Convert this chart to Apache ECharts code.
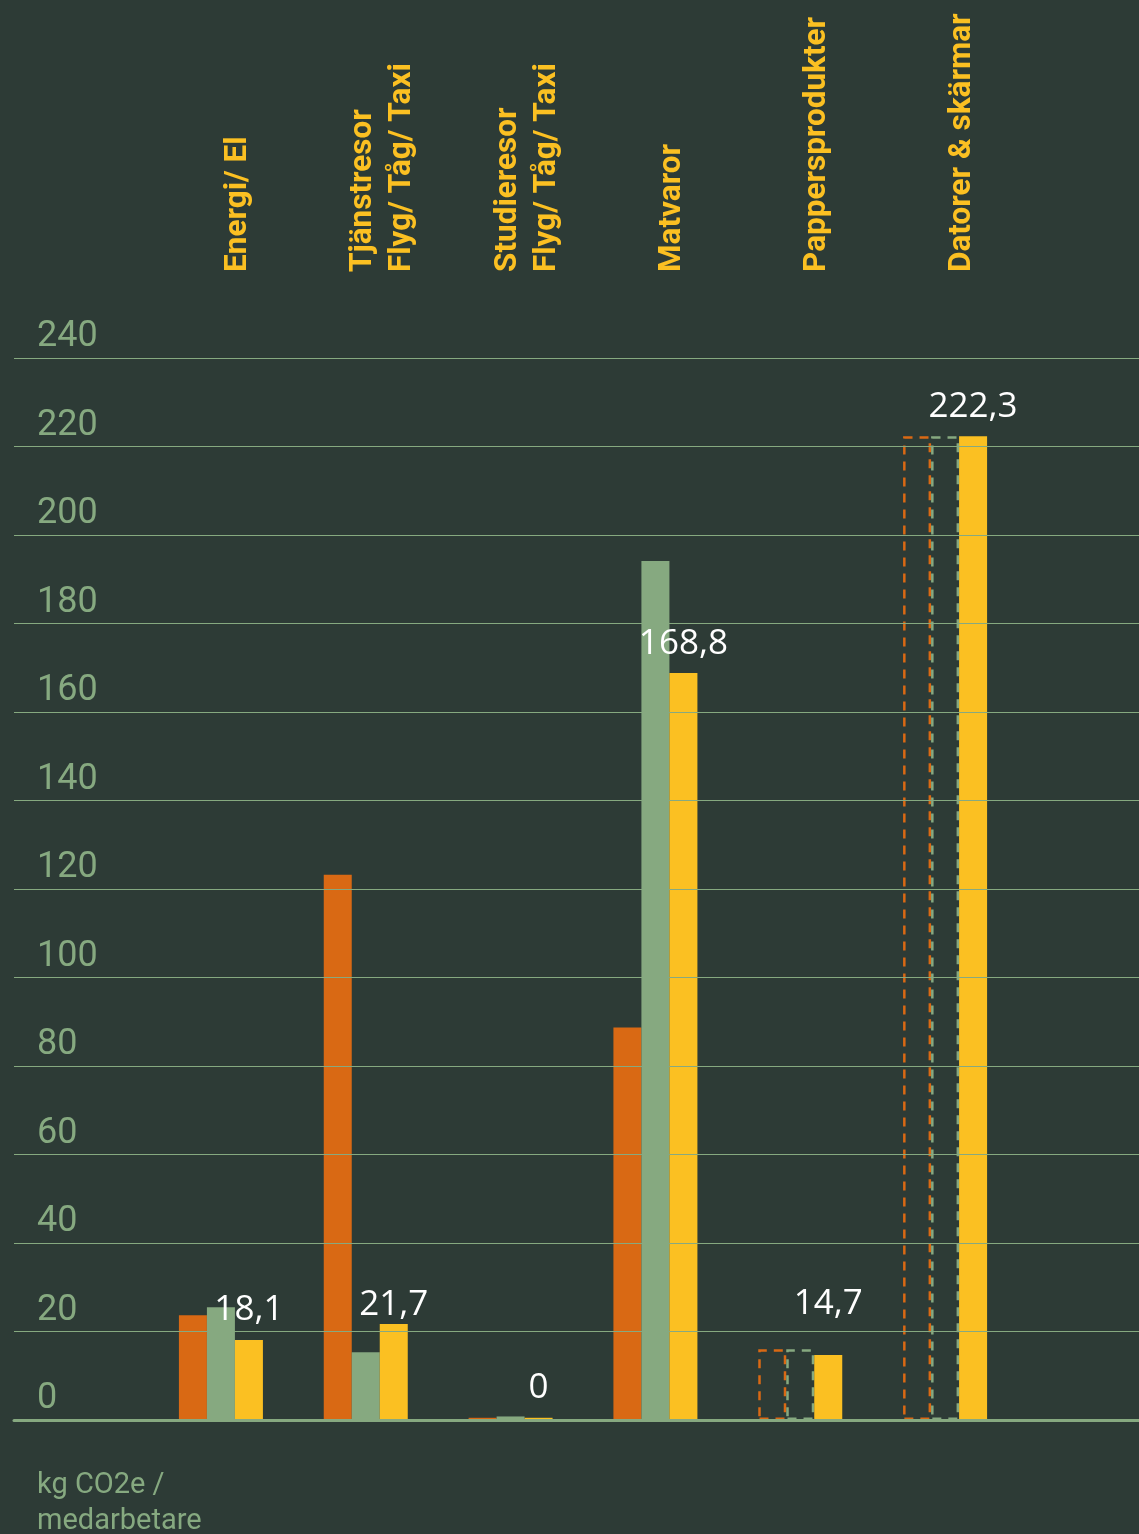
<!DOCTYPE html>
<html>
<head>
<meta charset="utf-8">
<script src="https://cdn.jsdelivr.net/npm/echarts@6/dist/echarts.min.js"></script>
<style>
html,body{margin:0;padding:0;background:#2d3b36;}
#chart{width:1139px;height:1534px;}
</style>
</head>
<body>
<div id="chart"></div>
<script>
const categories = ['Energi/ El', 'Tjänstresor\nFlyg/ Tåg/ Taxi', 'Studieresor\nFlyg/ Tåg/ Taxi', 'Matvaror', 'Pappersprodukter', 'Datorer & skärmar'];
const orangeValues = [23.7, 123.2, 0.5, 88.7, 16, 222.3];
const greenValues = [25.5, 15.3, 0.8, 194.1, 16, 222.3];
const yellowValues = [18.1, 21.7, 0.5, 168.8, 14.7, 222.3];
const yellowLabels = ['18,1', '21,7', '0', '168,8', '14,7', '222,3'];
const dashedFlags = [false, false, false, false, true, true];
const yMin = 0, yMax = 240, yStep = 20;
const yAxisTitle = 'kg CO2e /\nmedarbetare';

const BG = '#2d3b36', ORANGE = '#d96914', GREEN = '#86a980', YELLOW = '#fbc022', GRID = '#86a980';

function buildData(values, color) {
  return values.map((v, i) => dashedFlags[i]
    ? { value: v, itemStyle: { color: 'rgba(0,0,0,0)', borderColor: color, borderWidth: 2.5, borderType: [9, 7] } }
    : { value: v, itemStyle: { color: color } });
}
// label nudges (styling only)
const labelNudge = { 1: [0, 11], 4: [0, -21] };
const yellowData = yellowValues.map((v, i) => labelNudge[i]
  ? { value: v, label: { offset: labelNudge[i] } }
  : { value: v });

const chart = echarts.init(document.getElementById('chart'));
const option = {
  backgroundColor: BG,
  animation: false,
  title: {
    text: yAxisTitle, left: 37, top: 1468, padding: 0,
    textStyle: { color: GREEN, fontFamily: 'Roboto', fontSize: 29, fontWeight: 'normal', lineHeight: 36 }
  },
  grid: [
    { left: 14, right: 0, top: 358, bottom: 114 },
    { left: 148.5, right: 121.5, top: 358, bottom: 114 },
    { left: 165.5, right: 104.5, top: 358, bottom: 114 }
  ],
  xAxis: [
    { gridIndex: 0, type: 'value', min: 0, max: 1, show: true, z: 5,
      axisLine: { show: true, onZero: false, lineStyle: { color: GRID, width: 3 } },
      axisTick: { show: false }, axisLabel: { show: false }, splitLine: { show: false } },
    { gridIndex: 1, type: 'category', data: categories,
      axisLine: { show: false }, axisTick: { show: false }, axisLabel: { show: false } },
    { gridIndex: 2, type: 'category', data: categories, position: 'top',
      axisLine: { show: false }, axisTick: { show: false },
      axisLabel: { show: true, rotate: 90, margin: 86, interval: 0, color: YELLOW,
        fontFamily: 'Roboto', fontWeight: 'bold', fontSize: 31.5, lineHeight: 39 } }
  ],
  yAxis: [
    { gridIndex: 0, type: 'value', min: yMin, max: yMax, interval: yStep, z: 4,
      axisLine: { show: false }, axisTick: { show: false },
      splitLine: { show: true, lineStyle: { color: GRID, width: 1.2 } },
      axisLabel: { inside: true, margin: 23, verticalAlign: 'bottom', color: GREEN,
        fontFamily: 'Roboto', fontSize: 36, padding: [0, 0, 3, 0] } },
    { gridIndex: 1, type: 'value', min: yMin, max: yMax, interval: yStep, show: false },
    { gridIndex: 2, type: 'value', min: yMin, max: yMax, interval: yStep, show: false }
  ],
  series: [
    { type: 'bar', xAxisIndex: 1, yAxisIndex: 1, barWidth: 28, barGap: '0%', data: buildData(orangeValues, ORANGE) },
    { type: 'bar', xAxisIndex: 1, yAxisIndex: 1, barWidth: 28, barGap: '0%', data: buildData(greenValues, GREEN) },
    { type: 'bar', xAxisIndex: 1, yAxisIndex: 1, barWidth: 28, barGap: '0%',
      itemStyle: { color: YELLOW },
      label: { show: true, position: 'top', distance: 12, color: '#ffffff',
        fontFamily: 'Open Sans', fontSize: 35,
        formatter: p => yellowLabels[p.dataIndex] },
      data: yellowData }
  ]
};
chart.setOption(option);
</script>
</body>
</html>
